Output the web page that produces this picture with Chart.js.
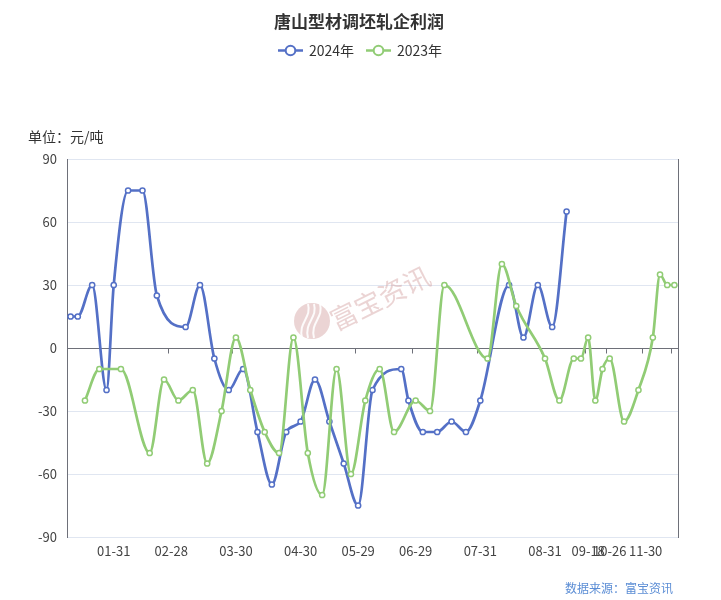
<!DOCTYPE html>
<html>
<head>
<meta charset="utf-8">
<script src="https://cdn.jsdelivr.net/npm/chart.js@4.4.1/dist/chart.umd.min.js"></script>
<style>
  html, body { margin: 0; padding: 0; background: #fff; }
  canvas { display: block; }
</style>
</head>
<body>
<canvas id="c" width="721" height="600"></canvas>
<script>
// Shared date axis: both years are plotted on one MM-DD category axis.
const categoryCount = 85;
const tickIndex  = [6, 14, 23, 32, 40, 48, 57, 66, 72, 75, 80];
const tickLabels = ['01-31', '02-28', '03-30', '04-30', '05-29', '06-29', '07-31', '08-31', '09-18', '10-26', '11-30'];
const categories = Array.from({ length: categoryCount }, (_, i) => {
  const k = tickIndex.indexOf(i);
  return k >= 0 ? tickLabels[k] : '';
});

// Profit, yuan per tonne (null where that year has no reading on that date)
const profit2024 = [
  15, 15, null, 30, null, -20, 30, null, 75, null,
  75, null, 25, null, null, null, 10, null, 30, null,
  -5, null, -20, null, -10, null, -40, null, -65, null,
  -40, null, -35, null, -15, null, -35, null, -55, null,
  -75, null, -20, null, null, null, -10, -25, null, -40,
  null, -40, null, -35, null, -40, null, -25, null, null,
  null, 30, null, 5, null, 30, null, 10, null, 65,
  null, null, null, null, null, null, null, null, null, null,
  null, null, null, null, null
];
const profit2023 = [
  null, null, -25, null, -10, null, null, -10, null, null,
  null, -50, null, -15, null, -25, null, -20, null, -55,
  null, -30, null, 5, null, -20, null, -40, null, -50,
  null, 5, null, -50, null, -70, null, -10, null, -60,
  null, -25, null, -10, null, -40, null, null, -25, null,
  -30, null, 30, null, null, null, null, null, -5, null,
  40, null, 20, null, null, null, -5, null, -25, null,
  -5, -5, 5, -25, -10, -5, null, -35, null, -20,
  null, 5, 35, 30, 30
];
const yTicks = [-90, -60, -30, 0, 30, 60, 90];

const FONT = '"Noto Sans CJK SC", "Microsoft YaHei", sans-serif';
const BLUE = '#5470c6';
const GREEN = '#91cc75';
const AXIS = '#6E7079';
const SPLIT = '#E0E6F1';

// Title, legend, unit note and source line
const decorations = {
  id: 'decorations',
  afterDraw(chart) {
    const ctx = chart.ctx;
    ctx.save();
    ctx.fillStyle = '#333';
    ctx.textBaseline = 'middle';
    ctx.textAlign = 'center';
    ctx.font = 'bold 17px ' + FONT;
    ctx.fillText('唐山型材调坯轧企利润', 359, 22);

    const items = [
      { x: 278, label: '2024年', color: BLUE },
      { x: 366, label: '2023年', color: GREEN }
    ];
    const ly = 50.5;
    items.forEach(it => {
      ctx.strokeStyle = it.color;
      ctx.lineWidth = 2.5;
      ctx.beginPath();
      ctx.moveTo(it.x, ly);
      ctx.lineTo(it.x + 25, ly);
      ctx.stroke();
      ctx.beginPath();
      ctx.arc(it.x + 12.5, ly, 4.8, 0, Math.PI * 2);
      ctx.fillStyle = '#fff';
      ctx.fill();
      ctx.lineWidth = 2;
      ctx.stroke();
      ctx.fillStyle = '#333';
      ctx.textAlign = 'left';
      ctx.font = '14px ' + FONT;
      ctx.fillText(it.label, it.x + 31, ly);
    });

    ctx.font = '14px ' + FONT;
    ctx.fillStyle = '#333';
    ctx.textAlign = 'left';
    ctx.fillText('单位：元/吨', 28, 137);

    ctx.font = '12px ' + FONT;
    ctx.fillStyle = '#5b8dd5';
    ctx.textAlign = 'right';
    ctx.fillText('数据来源：富宝资讯', 673, 588);
    ctx.restore();
  }
};

// Brand watermark and short axis ticks hanging from the zero line
const underlay = {
  id: 'underlay',
  beforeDatasetsDraw(chart) {
    const ctx = chart.ctx;
    const xs = chart.scales.x, ys = chart.scales.y;
    ctx.save();

    // watermark logo
    ctx.fillStyle = 'rgba(210, 160, 160, 0.45)';
    ctx.beginPath();
    ctx.arc(312, 321, 18, 0, Math.PI * 2);
    ctx.fill();
    ctx.strokeStyle = 'rgba(255,255,255,0.9)';
    ctx.lineWidth = 2;
    [-6, 0, 6].forEach(dx => {
      ctx.beginPath();
      ctx.moveTo(312 + dx - 4, 338);
      ctx.bezierCurveTo(312 + dx - 8, 322, 312 + dx + 6, 318, 312 + dx + 2, 304);
      ctx.stroke();
    });
    ctx.translate(380, 298);
    ctx.rotate(-0.46);
    ctx.font = '27px ' + FONT;
    ctx.fillStyle = 'rgba(210, 160, 160, 0.45)';
    ctx.textAlign = 'center';
    ctx.textBaseline = 'middle';
    ctx.fillText('富宝资讯', 0, 0);
    ctx.setTransform(1, 0, 0, 1, 0, 0);

    // axis ticks at category boundaries before each labelled date
    const y0 = Math.round(ys.getPixelForValue(0)) + 0.5;
    const half = (xs.getPixelForValue(1) - xs.getPixelForValue(0)) / 2;
    ctx.strokeStyle = AXIS;
    ctx.lineWidth = 1;
    ctx.beginPath();
    tickIndex.concat([categoryCount - 1]).forEach(i => {
      const px = Math.round(xs.getPixelForValue(i) - half) + 0.5;
      ctx.moveTo(px, y0);
      ctx.lineTo(px, y0 + 5);
    });
    ctx.stroke();
    ctx.restore();
  }
};

const lineStyle = color => ({
  borderColor: color,
  backgroundColor: color,
  borderWidth: 2.7,
  pointRadius: 2.6,
  pointBorderWidth: 1.5,
  pointBackgroundColor: '#fff',
  pointBorderColor: color,
  cubicInterpolationMode: 'monotone',
  spanGaps: true,
  fill: false
});

new Chart(document.getElementById('c'), {
  type: 'line',
  data: {
    labels: categories,
    datasets: [
      Object.assign({ label: '2023年', data: profit2023 }, lineStyle(GREEN)),
      Object.assign({ label: '2024年', data: profit2024 }, lineStyle(BLUE))
    ]
  },
  options: {
    responsive: false,
    animation: false,
    devicePixelRatio: 1,
    layout: { padding: { top: 159, left: 0, right: 43, bottom: 0 } },
    plugins: {
      legend: { display: false },
      title: { display: false },
      tooltip: { enabled: false }
    },
    scales: {
      x: {
        type: 'category',
        offset: true,
        grid: { display: false, drawTicks: false },
        border: { display: false },
        ticks: {
          autoSkip: false,
          maxRotation: 0,
          padding: 6,
          color: '#444',
          font: { family: FONT, size: 13 },
          callback: (v, i) => categories[i]
        },
        afterFit: s => { s.height = 63; }
      },
      y: {
        min: -90,
        max: 90,
        afterBuildTicks: s => { s.ticks = yTicks.map(v => ({ value: v })); },
        grid: {
          drawTicks: false,
          color: c => (c.tick && c.tick.value === 0 ? AXIS : SPLIT),
          lineWidth: 1
        },
        border: { display: true, color: AXIS, width: 1 },
        ticks: {
          padding: 10,
          color: '#444',
          font: { family: FONT, size: 13 }
        },
        afterFit: s => { s.width = 67; }
      },
      yRight: {
        position: 'right',
        min: -90,
        max: 90,
        grid: { display: false, drawTicks: false },
        border: { display: true, color: AXIS, width: 1 },
        ticks: { display: false },
        afterFit: s => { s.width = 0; }
      }
    }
  },
  plugins: [underlay, decorations]
});
</script>
</body>
</html>
